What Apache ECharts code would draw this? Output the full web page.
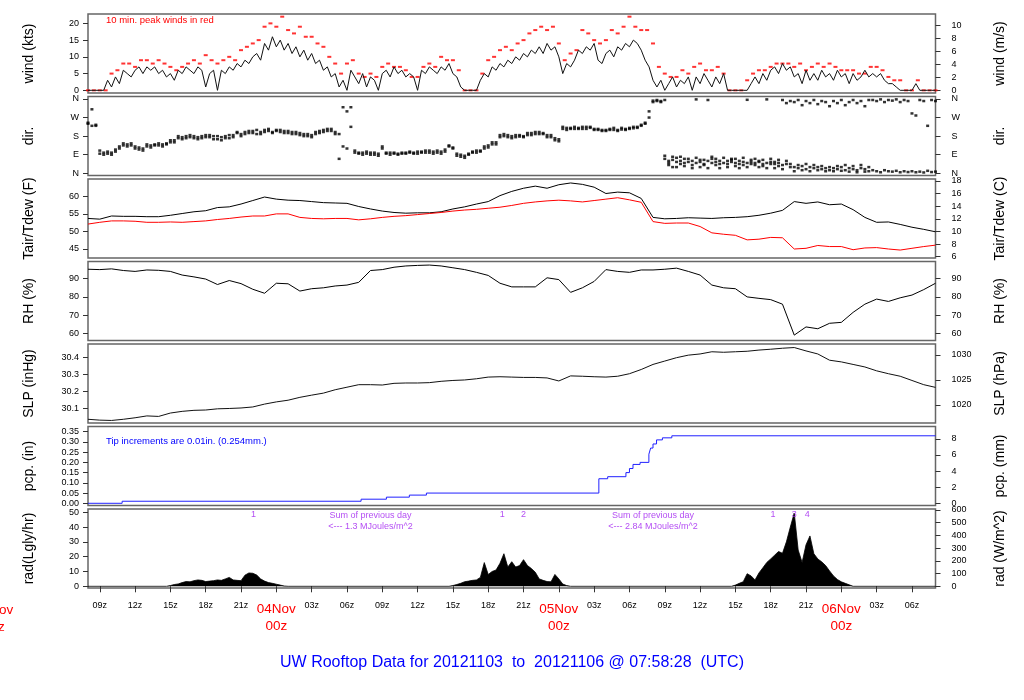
<!DOCTYPE html>
<html><head><meta charset="utf-8">
<script src="https://cdn.jsdelivr.net/npm/echarts@6/dist/echarts.min.js"></script>
<style>html,body{margin:0;padding:0;background:#fff}#c{width:1024px;height:700px}</style>
</head><body><div id="c"></div>
<script>
// time unit: hours since 2012-11-03 00z
const X_MIN = 8, X_MAX = 80;
const T0 = 8;               // first sample
const STEP20 = 1 / 3;       // 20-minute samples
const STEP30 = 0.5;         // 30-minute samples
const STEP60 = 1;           // hourly samples
const xTickHours = [9,12,15,18,21,24,27,30,33,36,39,42,45,48,51,54,57,60,63,66,69,72,75,78];
const dayNames = {0:'03Nov',24:'04Nov',48:'05Nov',72:'06Nov'};

// wind speed (kts), 20-min
const windKts = [
 0,0,0,0,0, 3,1,4,2,6, 5,4,6,7,5, 7,6,7,5,6, 4,5,3,6,5, 7,6,5,7,6, 1,5,6,0,6, 5,7,6,8,7,
 9,8,10,11,9, 14,12,16,13,15, 12,14,11,13,10, 12,9,11,8,9, 6,7,4,5,1, 3,0,6,4,2, 5,1,4,3,0,
 5,6,4,7,5, 6,4,5,4,0, 6,5,7,6,5, 7,6,8,5,4, 1,0,0,0,0, 3,5,4,7,6, 8,7,9,8,10, 9,11,10,12,11,
 13,11,14,12,13, 10,5,8,7,9, 12,11,13,12,14, 9,8,11,12,10, 13,12,14,13,15, 14,12,9,7,3,
 1,3,0,2,4, 1,3,2,4,0, 4,2,5,3,1, 4,2,5,0,0, 0,0,0,0,2, 4,2,5,3,6, 7,5,8,6,7, 4,5,2,6,3,
 5,3,6,4,5, 3,6,4,5,2, 5,3,4,6,4, 5,4,5,3,2, 2,1,0,0,0, 0,2,0,0,0, 0,0];
// 10-min peak wind (kts), 30-min
const gustKts = [
 0,0,0,0,5, 6,8,8,7,9, 9,8,9,8,7, 6,7,8,9,8, 10.5,9,8,9,10, 9,12,13,14,15, 19,20,19,22,18,
 17,19,16,16,14, 13,10,8,5,8, 9,5,4,5,4, 7,8,7,7,6, 4,4,7,8,7, 10,9,9,6,0, 0,0,5,9,10,
 12,13,12,14,15, 17,18,19,18,19, 14,9,11,12,18, 17,15,14,15,18, 17,19,22,19,18, 18,14,7,5,4,
 4,6,5,7,8, 6,6,7,5,0, 0,0,3,5,6, 6,7,8,8,8, 7,8,6,7,8, 7,8,7,6,6, 6,5,5,7,7, 6,4,3,3,0, 0,3,0,0,0];
// wind direction (deg), 20-min
const dirMain = [
 240,230,235,95,100, 95,100,105,120,135, 140,135,130,115,120, 130,135,140,135,140,
 145,150,160,170,175, 180,175,170,175,180, 185,175,180,165,175, 180,170,185,195,190,
 200,195,205,190,200, 210,205,200,210,200, 205,195,200,190,185, 190,180,185,200,195,
 210,205,215,200,190, 130,300,225,100,95, 100,95,100,90,95, 130,95,100,95,90,
 100,95,100,95,105, 105,100,110,105,100, 105,115,135,120,85, 80,85,90,105,100,
 105,120,135,140,150, 185,180,175,180,175, 178,180,185,195,190, 200,190,185,175,160,
 165,215,220,215,225, 220,215,225,220,215, 210,205,210,215,210, 210,212,215,220,218,
 225,230,240,300,352, 355,350,70,60,65, 55,60,50,55,60, 50,55,45,60,50,
 55,45,50,60,55, 50,45,55,50,45, 50,55,45,50,55, 45,50,40,45,30,
 30,25,35,20,30, 25,30,20,25,15, 25,20,30,15,25, 20,15,25,20,10,
 15,10,5,15,10, 8,12,5,10,6, 10,5,8,4,12, 6,8];
const dirSpread = [
 245,310,230,110,90, 105,90,115,130,145, 130,145,120,125,110, 140,125,135,145,130,
 140,160,150,180,165, 170,185,180,165,170, 175,185,165,180,160, 170,185,175,200,180,
 190,205,195,210,190, 200,215,195,205,210, 195,205,190,200,195, 180,190,175,190,205,
 200,215,205,190,70, 320,120,320,110,100, 90,105,90,100,85, 120,100,90,100,95,
 95,100,105,100,95, 100,110,100,95,110, 95,105,130,125,95, 90,75,95,100,110,
 110,130,125,150,140, 175,190,185,170,185, 185,175,195,185,200, 190,195,175,185,170,
 155,225,210,220,215, 215,225,215,225,210, 215,210,205,210,220, 205,220,210,215,225,
 220,235,245,270,345, 350,345,355,50,80, 75,45,70,null,40, 358,65,40,355,70,
 40,60,null,45,65, 35,60,40,356,55, 40,60,35,358,45, 55,35,355,340,350,
 345,355,330,350,340, 355,335,350,345,325, 350,340,355,330,345, 355,340,350,325,355,
 355,350,358,345,355, 352,358,345,355,350, 290,280,355,350,230, 355,350];
const dirExtraStart = 56 + 1/3;   // 2012-11-05 08:20z
const dirExtra = [
 null,null,85,40,30, 30,80,35,70,25, 75,30,65,25,80, 70,25,75,30,70, 70,25,75,30,65,
 70,30,65,25,70, 25,65,20,60,45, 10,40,15,45,10, 40,15,35,10,30, 10,35,12,40,8, 35,5,40,8,30];

// hourly series
const tairF = [53.7,53.5,54.4,54.3,54.3, 54.2,54.2,54.6,55.1,55.6, 55.9,56.8,57.0,57.8,58.8,
 59.8,59.2,58.9,58.8,58.5, 58.2,58.1,58.0,57.1,56.4, 55.8,55.4,55.2,55.3,55.3,
 55.6,56.4,57.0,57.8,58.5, 60.2,61.4,62.3,62.9,62.3, 63.3,63.8,63.4,62.6,60.8,
 61.2,61.0,59.4,54.0,53.6, 53.7,53.9,53.8,53.7,53.9, 54.0,54.2,54.6,55.2,56.0,
 58.5,58.0,58.4,57.6,57.8, 56.2,54.0,52.6,52.7,52.0, 51.2,50.6,49.9];
const tdewF = [52.1,52.6,53.0,53.0,52.9, 52.6,52.6,52.7,52.6,52.8, 53.0,53.4,53.7,54.1,54.4,
 54.4,55.0,55.0,54.0,53.7, 53.6,53.7,53.7,53.3,53.6, 54.0,54.3,54.5,54.8,55.1,
 55.4,55.8,56.1,56.3,56.6, 56.9,57.4,58.0,58.4,58.7, 58.9,58.7,58.4,58.8,59.2,
 59.6,59.0,58.3,52.8,52.3, 52.4,52.4,51.4,49.6,49.2, 48.9,47.6,47.8,48.3,48.2,
 45.0,45.2,46.0,45.7,45.7, 44.8,45.3,45.4,45.0,44.7, 45.2,45.7,46.1];
const rhPct = [95.2,95.0,95.4,94.5,94.0, 94.8,94.6,94.0,92.0,91.0, 89.8,86.8,89.0,87.3,84.2,
 82.0,87.5,87.2,83.2,84.5, 85.0,86.0,86.5,88.0,94.5, 95.0,96.3,97.0,97.3,97.5,
 97.0,96.0,95.0,93.5,91.8, 87.5,85.5,85.5,85.5,90.5, 89.5,82.5,85.0,88.5,95.0,
 94.0,93.5,94.8,94.8,95.2, 95.8,94.0,92.0,86.5,85.0, 84.5,80.0,79.2,78.5,76.0,
 59.0,63.5,62.5,65.5,66.0, 71.5,76.0,78.8,77.5,79.5, 81.0,84.0,87.5];
const slpIn = [30.035,30.030,30.028,30.035,30.044, 30.055,30.052,30.072,30.082,30.088,
 30.090,30.097,30.099,30.102,30.108, 30.125,30.138,30.148,30.165,30.178,
 30.190,30.210,30.225,30.240,30.240, 30.238,30.248,30.250,30.250,30.252,
 30.260,30.265,30.268,30.275,30.285, 30.287,30.285,30.283,30.283,30.280,
 30.262,30.292,30.290,30.287,30.285, 30.290,30.305,30.330,30.360,30.380,
 30.400,30.415,30.422,30.435,30.432, 30.435,30.438,30.445,30.450,30.456,
 30.460,30.440,30.422,30.385,30.375, 30.360,30.345,30.322,30.305,30.290,
 30.265,30.240,30.224];

// accumulated precipitation (in), step changes
const pcpHours = [8,10.9,31.2,33.35,35.3,36.75,51.4,52.15,53.7,54.0,54.3,54.9,55.65,55.8,56.0,56.3,56.8,57.6,80];
const pcpIn    = [0,0.01,0.02,0.03,0.04,0.05,0.12,0.13,0.15,0.17,0.19,0.20,0.24,0.27,0.29,0.31,0.32,0.33,0.33];

// solar radiation (Langley/hr), 20-min, daytime only
const radDayStarts = [15, 39, 63];
const radDay1 = [0.5,1.2,1.6,2.5,3.2,3.0,3.8,4.3,4.0,3.2,3.5,3.8,4.3,4.0,5.0,6.0,4.3,4.0,3.8,7.5,9.0,8.8,7.6,5.0,3.5,2.5,2.0,1.4,0.8,0.2];
const radDay2 = [0.5,1.2,2.0,3.1,3.5,4.0,4.3,6.0,16.0,8.0,10.0,11.0,15.5,22.0,13.0,16.6,13.0,14.0,18.0,14.0,12.0,9.5,5.0,4.0,3.2,3.0,8.0,5.0,1.5,0.5];
const radDay3 = [0.8,2.0,3.1,8.5,7.0,4.3,9.0,12.5,16.1,18.5,21.0,23.5,22.3,30.0,40.0,49.5,24.5,16.1,28.0,34.0,22.0,18.5,16.5,14.0,10.4,7.0,4.6,3.0,2.0,1.0];
const radMarkHours = [22.05, 43.2, 45.0, 66.2, 68.0, 69.1];
const radMarkLabels = ['1','1','2','1','3','4'];
const radSumHours = [32, 56];
const radSumMJ = ['1.3', '2.84'];

// tick values
const windKtsTicks = [0,5,10,15,20], windMsTicks = [0,2,4,6,8,10];
const dirTicks = [0,90,180,270,360], dirTickLabels = ['N','E','S','W','N'];
const tempFTicks = [45,50,55,60], tempCTicks = [6,8,10,12,14,16,18];
const rhTicks = [60,70,80,90];
const slpInTicks = [30.1,30.2,30.3,30.4], slpHpaTicks = [1020,1025,1030];
const pcpInTicks = [0,0.05,0.10,0.15,0.20,0.25,0.30,0.35], pcpMmTicks = [0,2,4,6,8];
const radLyTicks = [0,10,20,30,40,50], radWTicks = [0,100,200,300,400,500,600];

// ---------- build ----------
const FONT = '"Liberation Sans", Arial, Helvetica, sans-serif';
const PURPLE = '#a020f0';
const KT_PER_MS = 1.94384, HPA_PER_IN = 33.8639, MM_PER_IN = 25.4, W_PER_LY = 11.63;
const ser = (arr, t0, step) => arr.map((v, i) => [t0 + i * step, v]);

const R = {
  wind: [-0.8, 22.8], dir: [-10.7, 372], temp: [42.44, 64.93], rh: [56.04, 99.45],
  slp: [30.013, 30.481], pcp: [-0.0108, 0.3754], rad: [-1.15, 52.2]
};
const GRID_TOPS = [14, 96.5, 179, 261.5, 344, 426.5, 509];
const grid = GRID_TOPS.map(t => ({left: 88, width: 847.5, top: t, height: 79, show: true,
  borderColor: '#666', borderWidth: 1.5, backgroundColor: 'rgba(0,0,0,0)'}));

const xAxis = GRID_TOPS.map((t, k) => ({
  type: 'value', gridIndex: k, min: X_MIN, max: X_MAX, show: k === 6,
  axisLine: {show: false}, splitLine: {show: false},
  axisTick: {show: true, customValues: xTickHours, length: 6, lineStyle: {color: '#333'}},
  axisLabel: {customValues: xTickHours, margin: 13, fontSize: 9, fontFamily: FONT, color: '#000', lineHeight: 10,
    formatter: v => { const hh = v % 24; if (hh === 0) return '{big|' + dayNames[v] + '}\n{big|00z}';
      return (hh < 10 ? '0' : '') + hh + 'z'; },
    rich: {big: {fontSize: 13.5, color: '#ff0000', lineHeight: 17, fontFamily: FONT}}}
}));

function yAx(gi, pos, rng, ticks, fmt, name) {
  return {type: 'value', gridIndex: gi, position: pos, min: rng[0], max: rng[1],
    name: name, nameLocation: 'middle', nameRotate: 90, nameGap: pos === 'left' ? 52 : 58,
    nameTextStyle: {fontSize: 14, fontFamily: FONT, color: '#000'},
    axisLine: {show: false}, splitLine: {show: false},
    axisTick: {show: true, customValues: ticks, length: 5, lineStyle: {color: '#333'}},
    axisLabel: {customValues: ticks, formatter: fmt, fontSize: 9, fontFamily: FONT, color: '#000',
      margin: pos === 'left' ? 9 : 16}};
}
const plain = v => String(+v.toFixed(2));
const fC = f => (f - 32) / 1.8;
const yAxis = [
  yAx(0, 'left', R.wind, windKtsTicks, plain, 'wind (kts)'),
  yAx(0, 'right', R.wind.map(v => v / KT_PER_MS), windMsTicks, plain, 'wind (m/s)'),
  yAx(1, 'left', R.dir, dirTicks, v => dirTickLabels[dirTicks.indexOf(Math.round(v))], 'dir.'),
  yAx(1, 'right', R.dir, dirTicks, v => dirTickLabels[dirTicks.indexOf(Math.round(v))], 'dir.'),
  yAx(2, 'left', R.temp, tempFTicks, plain, 'Tair/Tdew (F)'),
  yAx(2, 'right', R.temp.map(fC), tempCTicks, plain, 'Tair/Tdew (C)'),
  yAx(3, 'left', R.rh, rhTicks, plain, 'RH (%)'),
  yAx(3, 'right', R.rh, rhTicks, plain, 'RH (%)'),
  yAx(4, 'left', R.slp, slpInTicks, v => v.toFixed(1), 'SLP (inHg)'),
  yAx(4, 'right', R.slp.map(v => v * HPA_PER_IN), slpHpaTicks, plain, 'SLP (hPa)'),
  yAx(5, 'left', R.pcp, pcpInTicks, v => v.toFixed(2), 'pcp. (in)'),
  yAx(5, 'right', R.pcp.map(v => v * MM_PER_IN), pcpMmTicks, plain, 'pcp. (mm)'),
  yAx(6, 'left', R.rad, radLyTicks, plain, 'rad(Lgly/hr)'),
  yAx(6, 'right', R.rad.map(v => v * W_PER_LY), radWTicks, plain, 'rad (W/m^2)')
];

// radiation area data with night zeros
const radData = [[X_MIN, 0]];
[radDay1, radDay2, radDay3].forEach((d, k) => {
  const s = radDayStarts[k];
  radData.push([s - STEP20, 0]);
  d.forEach((v, i) => radData.push([s + i * STEP20, v]));
  radData.push([s + d.length * STEP20, 0]);
});
radData.push([X_MAX, 0]);

const dirSym = {type: 'scatter', xAxisIndex: 1, yAxisIndex: 2, symbol: 'rect', symbolSize: [3, 2.5],
  itemStyle: {color: '#000'}, silent: true};

const series = [
  {type: 'line', xAxisIndex: 0, yAxisIndex: 0, data: ser(windKts, T0, STEP20), showSymbol: false,
   lineStyle: {color: '#111', width: 1}},
  {type: 'scatter', xAxisIndex: 0, yAxisIndex: 0, data: ser(gustKts, T0, STEP30), symbol: 'rect',
   symbolSize: [4, 2], itemStyle: {color: '#ff0000'}},
  Object.assign({}, dirSym, {data: ser(dirMain, T0, STEP20)}),
  Object.assign({}, dirSym, {data: ser(dirSpread, T0, STEP20)}),
  Object.assign({}, dirSym, {data: ser(dirExtra, dirExtraStart, STEP20)}),
  {type: 'line', xAxisIndex: 2, yAxisIndex: 4, data: ser(tairF, T0, STEP60), showSymbol: false,
   lineStyle: {color: '#000', width: 1}},
  {type: 'line', xAxisIndex: 2, yAxisIndex: 4, data: ser(tdewF, T0, STEP60), showSymbol: false,
   lineStyle: {color: '#ff0000', width: 1}},
  {type: 'line', xAxisIndex: 3, yAxisIndex: 6, data: ser(rhPct, T0, STEP60), showSymbol: false,
   lineStyle: {color: '#000', width: 1}},
  {type: 'line', xAxisIndex: 4, yAxisIndex: 8, data: ser(slpIn, T0, STEP60), showSymbol: false,
   lineStyle: {color: '#111', width: 1}},
  {type: 'line', xAxisIndex: 5, yAxisIndex: 10, step: 'end', data: pcpHours.map((h, i) => [h, pcpIn[i]]),
   showSymbol: false, lineStyle: {color: '#2020ff', width: 1}},
  {type: 'line', xAxisIndex: 6, yAxisIndex: 12, data: radData, showSymbol: false, z: 2,
   lineStyle: {color: '#000', width: 0.8}, areaStyle: {color: '#000', opacity: 1}},
  {type: 'scatter', xAxisIndex: 6, yAxisIndex: 12, symbolSize: 0, z: 10,
   data: radMarkHours.map((h, i) => ({value: [h, R.rad[1]], name: radMarkLabels[i]})),
   label: {show: true, position: 'bottom', distance: 1, formatter: p => p.name, fontSize: 9,
     fontFamily: FONT, color: PURPLE}},
  {type: 'scatter', xAxisIndex: 6, yAxisIndex: 12, symbolSize: 0, z: 10,
   data: radSumHours.map((h, i) => ({value: [h, R.rad[1]], name: radSumMJ[i]})),
   label: {show: true, position: 'bottom', distance: 1, lineHeight: 11, fontSize: 9, fontFamily: FONT,
     color: PURPLE, formatter: p => 'Sum of previous day\n<--- ' + p.name + ' MJoules/m^2'}}
];

const chart = echarts.init(document.getElementById('c'));
const x0 = () => chart.convertToPixel({xAxisIndex: 6}, 0);
chart.setOption({
  animation: false, backgroundColor: '#fff',
  title: {text: 'UW Rooftop Data for 20121103  to  20121106 @ 07:58:28  (UTC)', left: 'center', top: 650,
    textStyle: {fontSize: 16, fontWeight: 'normal', color: '#0000ff', fontFamily: FONT}},
  grid, xAxis, yAxis, series
});
// annotations; partially visible previous-day label at the left edge
chart.setOption({graphic: [
  {type: 'text', left: 106, top: 15, style: {text: '10 min. peak winds in red', fill: '#ff0000', font: '9.5px ' + FONT}},
  {type: 'text', left: 106, top: 436, style: {text: 'Tip increments are 0.01in. (0.254mm.)', fill: '#0000ff', font: '9.5px ' + FONT}},
  {type: 'text', x: x0(), y: 602, style: {text: dayNames[0] + '\n00z', fill: '#ff0000', font: '13.5px ' + FONT,
    align: 'center', lineHeight: 17}}
]});
</script></body></html>
